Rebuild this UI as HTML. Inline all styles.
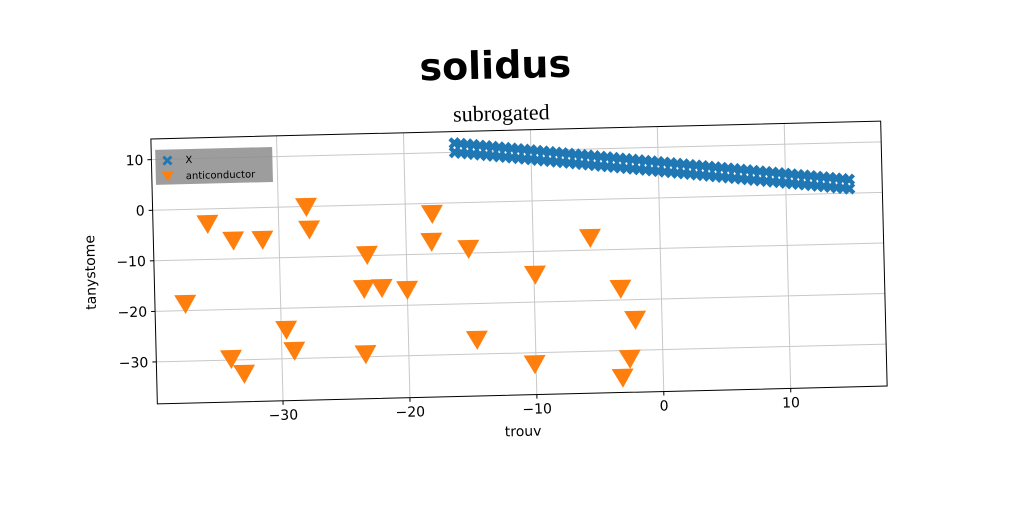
<!DOCTYPE html>
<html><head><meta charset="utf-8"><style>
html,body{margin:0;padding:0;background:#fff;width:1024px;height:512px;overflow:hidden}
svg{display:block}
text{font-family:"DejaVu Sans","Liberation Sans",sans-serif}
</style></head><body>
<svg id="chart" width="1024" height="512" viewBox="0 0 1024 512" xmlns="http://www.w3.org/2000/svg">
<g id="rot" transform="rotate(-1.4 519 262)">
<text x="500" y="78" text-anchor="middle" font-size="38" font-weight="bold" style="font-family:'DejaVu Sans','Liberation Sans',sans-serif">solidus</text>
<text x="505" y="120" text-anchor="middle" font-size="22" style="font-family:'Liberation Serif','DejaVu Serif',serif">subrogated</text>
<g id="grid"></g>
<g id="marks"></g>
<rect x="154" y="130" width="730" height="265" fill="none" stroke="#000" stroke-width="1"/>
<g id="ticks"></g>
<text x="519" y="436" text-anchor="middle" font-size="14">trouv</text>
<text transform="translate(95 262) rotate(-90)" text-anchor="middle" font-size="14">tanystome</text>
<g>
<rect x="158" y="141" width="117" height="35" fill="#8c8c8c" opacity="0.85"/>
<path d="M165 149 l2 -2 l3 3 l3 -3 l2 2 l-3 3 l3 3 l-2 2 l-3 -3 l-3 3 l-2 -2 l3 -3z" fill="#1f77b4"/>
<text x="188" y="155" font-size="10">X</text>
<path d="M164 163 L176 163 L170 173 Z" fill="#ff7f0e"/>
<text x="188" y="171" font-size="10">anticonductor</text>
</g>
</g>
</svg>
<script>
const xTicks=[-30,-20,-10,0,10];
const yTicks=[-30,-20,-10,0,10];
const xTickLabels=["−30","−20","−10","0","10"];
const yTickLabels=["−30","−20","−10","0","10"];
const orangeX=[-37.5,-35.6,-33.6,-31.3,-27.8,-27.6,-34.0,-33.0,-29.6,-29.0,-23.1,-23.4,-22.0,-20.0,-23.4,-17.9,-18.0,-15.1,-14.6,-9.9,-10.1,-5.5,-3.2,-2.1,-2.6,-3.2];
const orangeY=[-18.3,-2.6,-6.0,-6.0,0.3,-4.2,-29.4,-32.4,-23.9,-28.1,-9.5,-16.2,-16.1,-16.6,-29.1,-1.7,-7.2,-8.8,-26.8,-14.2,-31.9,-7.2,-17.4,-23.6,-31.3,-35.0];
const blueX=[-16,-15.5,-15,-14.5,-14,-13.5,-13,-12.5,-12,-11.5,-11,-10.5,-10,-9.5,-9,-8.5,-8,-7.5,-7,-6.5,-6,-5.5,-5,-4.5,-4,-3.5,-3,-2.5,-2,-1.5,-1,-0.5,0,0.5,1,1.5,2,2.5,3,3.5,4,4.5,5,5.5,6,6.5,7,7.5,8,8.5,9,9.5,10,10.5,11,11.5,12,12.5,13,13.5,14,14.5,15];
const blueYTop=[11.80,11.65,11.51,11.36,11.21,11.07,10.92,10.77,10.63,10.48,10.33,10.19,10.04,9.89,9.74,9.60,9.45,9.30,9.16,9.01,8.86,8.72,8.57,8.42,8.28,8.13,7.98,7.84,7.69,7.54,7.40,7.25,7.10,6.96,6.81,6.66,6.52,6.37,6.22,6.08,5.93,5.78,5.64,5.49,5.34,5.19,5.05,4.90,4.75,4.61,4.46,4.31,4.17,4.02,3.87,3.73,3.58,3.43,3.29,3.14,2.99,2.85,2.70];
const blueYBot=[10.00,9.85,9.71,9.56,9.41,9.27,9.12,8.97,8.83,8.68,8.53,8.39,8.24,8.09,7.94,7.80,7.65,7.50,7.36,7.21,7.06,6.92,6.77,6.62,6.48,6.33,6.18,6.04,5.89,5.74,5.60,5.45,5.30,5.16,5.01,4.86,4.72,4.57,4.42,4.28,4.13,3.98,3.84,3.69,3.54,3.39,3.25,3.10,2.95,2.81,2.66,2.51,2.37,2.22,2.07,1.93,1.78,1.63,1.49,1.34,1.19,1.05,0.90];

const L=154,R=884,T=130,B=395;
const X0=-39.9,X1=17.6,Y0=-38.3,Y1=14.1;
function sx(v){return L+(v-X0)/(X1-X0)*(R-L);}
function sy(v){return B-(v-Y0)/(Y1-Y0)*(B-T);}
const NS="http://www.w3.org/2000/svg";
function mk(tag,attrs,parent){const e=document.createElementNS(NS,tag);for(const k in attrs)e.setAttribute(k,attrs[k]);parent.appendChild(e);return e;}
const grid=document.getElementById('grid'),ticks=document.getElementById('ticks'),marks=document.getElementById('marks');
xTicks.forEach((v,i)=>{
  const x=sx(v);
  const g=mk('line',{x1:x,x2:x,y1:T,y2:B,stroke:'#c8c8c8','stroke-width':1},grid);
  
  
  const t=mk('line',{x1:x,x2:x,y1:B,y2:B+4,stroke:'#000'},ticks);
  
  
  const l=mk('text',{x:x,y:B+19,'text-anchor':'middle','font-size':14},ticks);
  l.textContent=xTickLabels[i];
  
  
});
yTicks.forEach((v,i)=>{
  const y=sy(v);
  const g=mk('line',{x1:L,x2:R,y1:y,y2:y,stroke:'#c8c8c8','stroke-width':1},grid);
  
  
  const t=mk('line',{x1:L-4,x2:L,y1:y,y2:y,stroke:'#000'},ticks);
  
  
  const l=mk('text',{x:L-8,y:y+5,'text-anchor':'end','font-size':14},ticks);
  l.textContent=yTickLabels[i];
  
  
});
function xMarker(x,y){
  const s=3;
  const d=`M${x} ${y-s} L${x+s} ${y-2*s} L${x+2*s} ${y-s} L${x+s} ${y} L${x+2*s} ${y+s} L${x+s} ${y+2*s} L${x} ${y+s} L${x-s} ${y+2*s} L${x-2*s} ${y+s} L${x-s} ${y} L${x-2*s} ${y-s} L${x-s} ${y-2*s} Z`;
  const p=mk('path',{d:d,fill:'#1f77b4'},marks);
  
  
}
blueX.forEach((v,i)=>{xMarker(sx(v),sy(blueYTop[i]));xMarker(sx(v),sy(blueYBot[i]));});
orangeX.forEach((v,i)=>{
  const x=sx(v),y=sy(orangeY[i]);
  const p=mk('path',{d:`M${x-11} ${y-7} L${x+11} ${y-7} L${x} ${y+12} Z`,fill:'#ff7f0e'},marks);
  
  
});
</script>
</body></html>
